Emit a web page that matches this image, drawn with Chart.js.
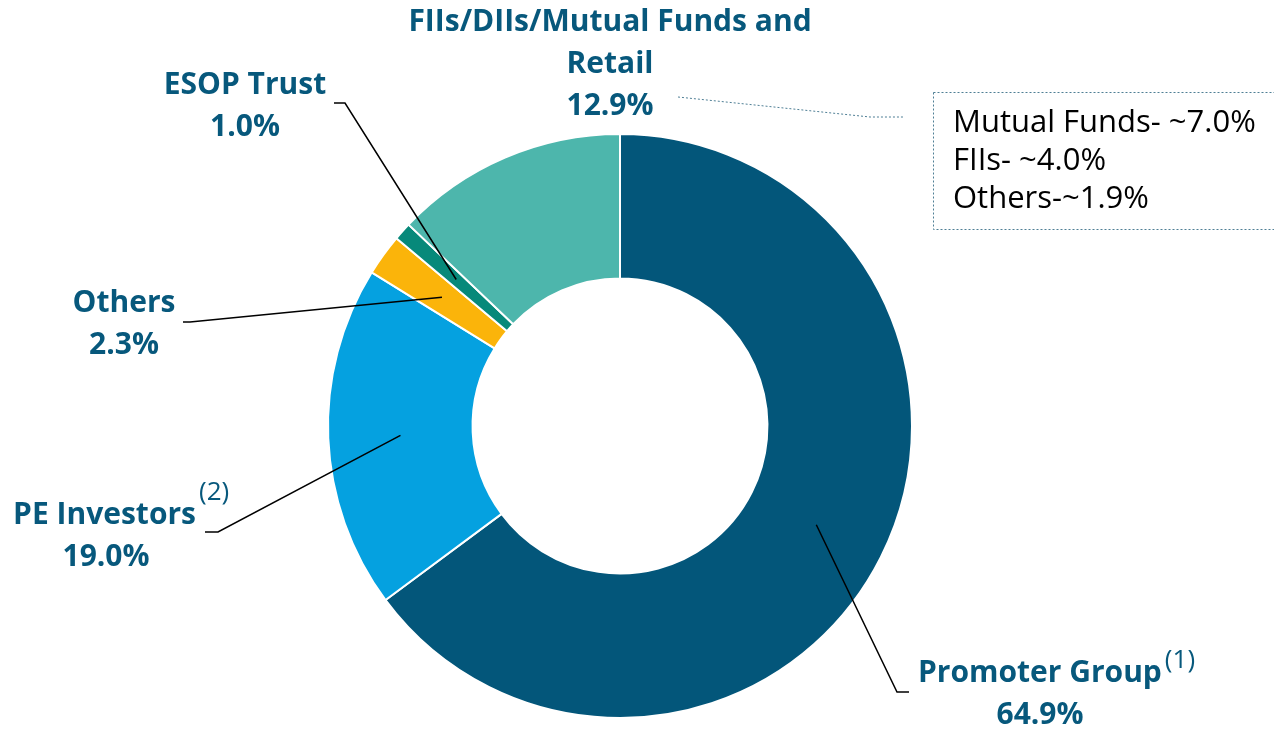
<!DOCTYPE html>
<html><head><meta charset="utf-8">
<script src="https://cdn.jsdelivr.net/npm/chart.js@4.4.1/dist/chart.umd.min.js"></script>
<style>html,body{margin:0;padding:0;background:#fff;}#wrap{width:1274px;height:732px;position:relative;}</style>
</head><body><div id="wrap"><canvas id="c" width="1274" height="732"></canvas></div>
<script>
const categories = ["Promoter Group", "PE Investors", "Others", "ESOP Trust", "FIIs/DIIs/Mutual Funds and Retail"];
const values = [64.9, 19.0, 2.3, 1.0, 12.9];
const colors = ["#03567A", "#05A1E0", "#FBB40A", "#07897A", "#4DB6AC"];
const breakdownLabels = ["Mutual Funds- ~7.0%", "FIIs- ~4.0%", "Others-~1.9%"];

const LABEL_COLOR = "#07587C";
const BOLD = "bold 30px 'Open Sans'";
const SUP = "26px 'Open Sans'";

const labelLayout = [
  {lines:["Promoter Group", "64.9%"], x:918, y:673, align:"left", sup:"(1)", supDy:-12, centerSecond:1040, elbow:[897,692], end:[909,692]},
  {lines:["PE Investors", "19.0%"], x:196, y:515, align:"right", sup:"(2)", supDy:-22, centerSecond:106, elbow:[218,532], end:[205,532]},
  {lines:["Others", "2.3%"], x:124, y:303, align:"center", elbow:[190,322], end:[183,322]},
  {lines:["ESOP Trust", "1.0%"], x:245, y:85, align:"center", elbow:[345,103], end:[334,103]},
  {lines:["FIIs/DIIs/Mutual Funds and", "Retail", "12.9%"], x:610, y:22, align:"center"}
];

const labelPlugin = {
  id: 'labels',
  afterDatasetsDraw(chart) {
    const ctx = chart.ctx;
    const meta = chart.getDatasetMeta(0);
    ctx.save();
    labelLayout.forEach((L, i) => {
      const arc = meta.data[i];
      if (L.elbow) {
        const p = arc.getCenterPoint();
        ctx.beginPath();
        ctx.strokeStyle = "#000";
        ctx.lineWidth = 1.5;
        ctx.moveTo(p.x, p.y);
        ctx.lineTo(L.elbow[0], L.elbow[1]);
        ctx.lineTo(L.end[0], L.end[1]);
        ctx.stroke();
      }
      ctx.fillStyle = LABEL_COLOR;
      ctx.textBaseline = "middle";
      ctx.font = BOLD;
      L.lines.forEach((t, k) => {
        const y = L.y + k * 42;
        if (k === 0 && L.sup) {
          ctx.font = BOLD;
          const w = ctx.measureText(t).width;
          let left = L.align === "left" ? L.x : L.x - w;
          ctx.textAlign = "left";
          ctx.fillText(t, left, y);
          ctx.font = SUP;
          ctx.fillText(L.sup, left + w + 3, y + L.supDy);
          ctx.font = BOLD;
        } else if (L.sup) {
          ctx.textAlign = "center";
          ctx.fillText(t, L.centerSecond, y);
        } else {
          ctx.textAlign = "center";
          ctx.fillText(t, L.x, y);
        }
      });
    });
    ctx.strokeStyle = "#4F7F95";
    ctx.lineWidth = 1;
    ctx.setLineDash([2, 2]);
    ctx.beginPath();
    ctx.moveTo(678, 97);
    ctx.lineTo(870, 117);
    ctx.lineTo(903, 117);
    ctx.stroke();
    ctx.strokeRect(933.5, 92.5, 360, 137);
    ctx.setLineDash([]);
    ctx.fillStyle = "#000";
    ctx.font = "31px 'Open Sans'";
    ctx.textAlign = "left";
    ctx.textBaseline = "middle";
    breakdownLabels.forEach((t, k) => ctx.fillText(t, 953, 123 + k * 38));
    ctx.restore();
  }
};

new Chart(document.getElementById('c'), {
  type: 'doughnut',
  data: {
    labels: categories,
    datasets: [{ data: values, backgroundColor: colors, borderColor: "#fff", borderWidth: 2 }]
  },
  options: {
    responsive: false,
    animation: false,
    cutout: '50.5%',
    layout: { padding: { left: 327, right: 361, top: 133, bottom: 13 } },
    plugins: { legend: { display: false }, tooltip: { enabled: false } }
  },
  plugins: [labelPlugin]
});
</script></body></html>
